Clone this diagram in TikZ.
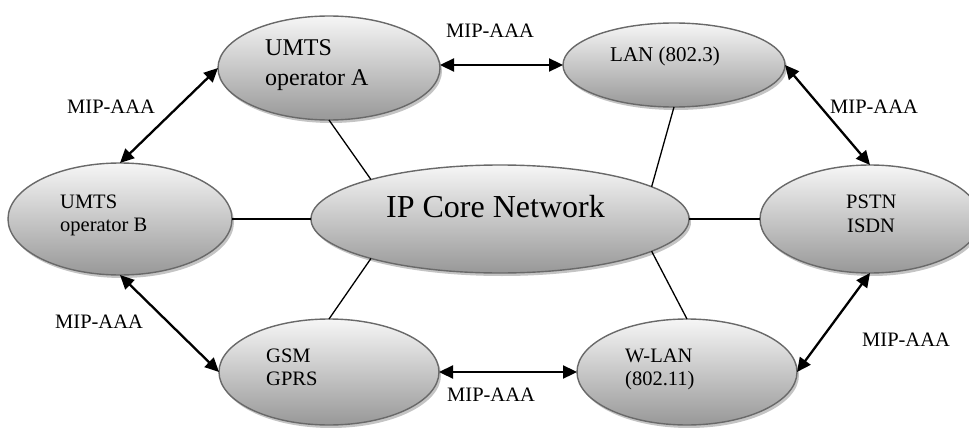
\documentclass[tikz,border=0pt]{standalone}
\usepackage{fontspec}
\setmainfont{Liberation Serif}
\usetikzlibrary{arrows.meta,shadows,shapes.geometric}
\definecolor{edgegray}{RGB}{105,105,105}
\definecolor{topgray}{RGB}{246,246,246}
\definecolor{botgray}{RGB}{152,152,152}
\definecolor{shadgray}{RGB}{196,196,196}
\tikzset{
  net/.style={ellipse, draw=edgegray, line width=1.4pt, top color=topgray, bottom color=botgray,
    drop shadow={shadow xshift=2pt, shadow yshift=-3pt, fill=shadgray, opacity=1},
    inner sep=0pt, outer sep=0pt},
  txt/.style={anchor=base west, inner sep=0pt, font=\fontsize{20.5}{24}\selectfont},
  mip/.style={line width=2.3pt, arrows={Triangle[length=14pt,width=13pt]-Triangle[length=14pt,width=13pt]}},
  link/.style={line width=1.3pt}
}
\begin{document}
\begin{tikzpicture}[x=1pt,y=-1pt]
\useasboundingbox (0,0) rectangle (969,428);
\clip (0,0) rectangle (969,428);
\fill[white] (0,0) rectangle (969,428);
% ellipses
\node[net, minimum width=222pt, minimum height=104pt] (umtsA) at (329,68) {};
\node[net, minimum width=222pt, minimum height=84pt] (lan) at (674,65) {};
\node[net, minimum width=224pt, minimum height=112pt] (umtsB) at (120,219) {};
\node[net, minimum width=378pt, minimum height=108pt] (ip) at (500,219) {};
\node[net, minimum width=220pt, minimum height=108pt] (pstn) at (870,219) {};
\node[net, minimum width=220pt, minimum height=106pt] (gsm) at (329,372) {};
\node[net, minimum width=220pt, minimum height=106pt] (wlan) at (687,372) {};
% texts
\node[txt, font=\fontsize{24}{28}\selectfont] (tA1) at (265,56) {UMTS};
\node[txt, font=\fontsize{24}{28}\selectfont] (tA2) at (265,85) {operator A};
\node[txt, font=\fontsize{21}{25}\selectfont] (tL) at (610,62) {LAN (802.3)};
\node[txt] (tB1) at (60,208) {UMTS};
\node[txt] (tB2) at (60,231) {operator B};
\node[txt, font=\fontsize{32}{36}\selectfont] (tIP) at (386,217) {IP Core Network};
\node[txt] (tP1) at (846,208) {PSTN};
\node[txt] (tP2) at (847,232) {ISDN};
\node[txt] (tG1) at (266,362) {GSM};
\node[txt] (tG2) at (266,385) {GPRS};
\node[txt] (tW1) at (625,362) {W-LAN};
\node[txt] (tW2) at (625,385) {(802.11)};
% links to core
\draw[link] (umtsA.south) -- (ip.163);
\draw[link] (lan.south) -- (ip.12);
\draw[link] (umtsB.east) -- (ip.west);
\draw[link] (ip.east) -- (pstn.west);
\draw[link] (gsm.north) -- (ip.197);
\draw[link] (wlan.north) -- (ip.348);
% MIP-AAA arrows
\draw[mip] (lan.west -| umtsA.east) -- (lan.west);
\draw[mip] (umtsA.west) -- (umtsB.north);
\draw[mip] (umtsB.south) -- (gsm.west);
\draw[mip] (gsm.east) -- (wlan.west);
\draw[mip] (lan.east) -- (pstn.north);
\draw[mip] (wlan.east) -- (pstn.south);
% labels
\node[txt] (m1) at (446,38) {MIP-AAA};
\node[txt] (m2) at (67,113) {MIP-AAA};
\node[txt] (m3) at (830,113) {MIP-AAA};
\node[txt] (m4) at (55,328) {MIP-AAA};
\node[txt] (m5) at (447,401) {MIP-AAA};
\node[txt] (m6) at (862,346) {MIP-AAA};
\end{tikzpicture}
\end{document}
